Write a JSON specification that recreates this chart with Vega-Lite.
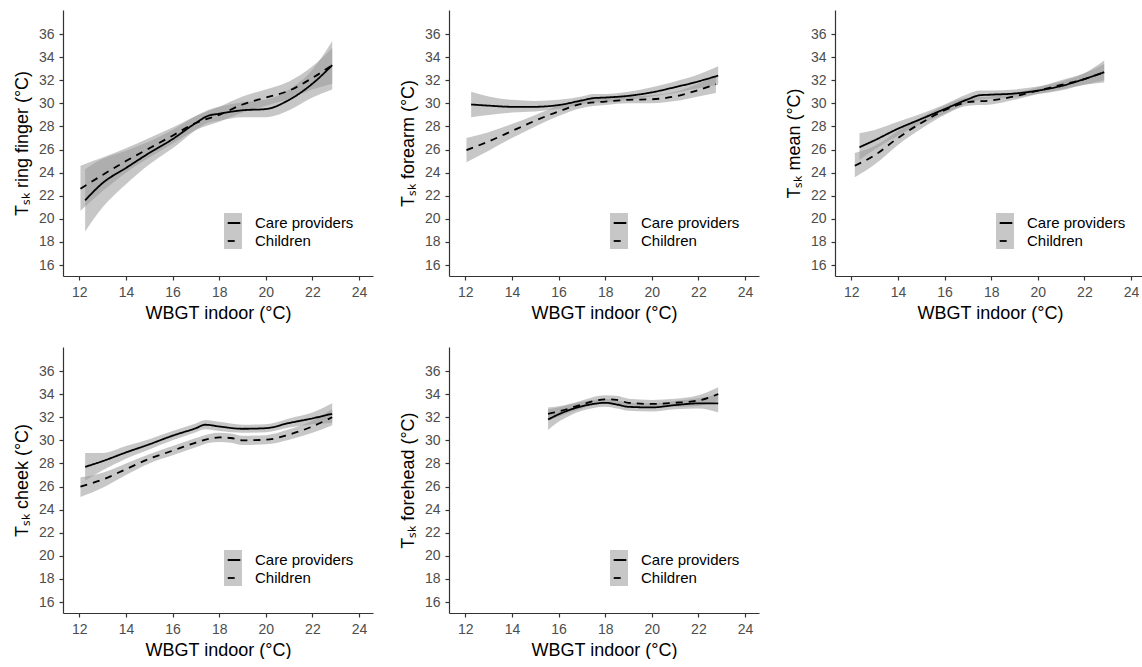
{
  "$schema": "https://vega.github.io/schema/vega-lite/v6.json",
  "padding": {"left": 13, "top": 10, "right": 0, "bottom": 0},
  "background": "white",
  "config": {
    "view": {"stroke": null},
    "axis": {"grid": false, "domainColor": "#333333", "tickColor": "#333333", "tickSize": 4, "domainWidth": 1.2, "tickWidth": 1.2,
      "labelFont": "Liberation Sans", "labelFontSize": 14, "labelColor": "#4d4d4d", "labelPadding": 5,
      "titleFont": "Liberation Sans", "titleFontSize": 18, "titleFontWeight": "normal", "titleColor": "#000000",
      "labelFlush": false, "labelOverlap": false},
    "axisY": {"titlePadding": 7},
    "axisX": {"titlePadding": 5},
    "legend": {"labelFont": "Liberation Sans"}
  },
  "datasets": {
    "d": [
      {"p": "ring", "g": "Care providers", "x": 12.25, "y": 21.6, "lo": 18.9, "hi": 24.3},
      {"p": "ring", "g": "Care providers", "x": 13, "y": 23.1, "lo": 21.0, "hi": 25.2},
      {"p": "ring", "g": "Care providers", "x": 14, "y": 24.4, "lo": 23.0, "hi": 25.9},
      {"p": "ring", "g": "Care providers", "x": 15, "y": 25.7, "lo": 24.7, "hi": 26.7},
      {"p": "ring", "g": "Care providers", "x": 16, "y": 26.9, "lo": 26.1, "hi": 27.7},
      {"p": "ring", "g": "Care providers", "x": 17, "y": 28.3, "lo": 27.7, "hi": 28.9},
      {"p": "ring", "g": "Care providers", "x": 17.5, "y": 28.9, "lo": 28.3, "hi": 29.4},
      {"p": "ring", "g": "Care providers", "x": 18, "y": 29.1, "lo": 28.5, "hi": 29.7},
      {"p": "ring", "g": "Care providers", "x": 19, "y": 29.4, "lo": 28.8, "hi": 30.1},
      {"p": "ring", "g": "Care providers", "x": 20, "y": 29.5, "lo": 28.8, "hi": 30.3},
      {"p": "ring", "g": "Care providers", "x": 21, "y": 30.3, "lo": 29.4, "hi": 31.2},
      {"p": "ring", "g": "Care providers", "x": 22, "y": 31.7, "lo": 30.5, "hi": 32.9},
      {"p": "ring", "g": "Care providers", "x": 22.85, "y": 33.3, "lo": 31.2, "hi": 35.4},
      {"p": "ring", "g": "Children", "x": 12.05, "y": 22.6, "lo": 20.7, "hi": 24.6},
      {"p": "ring", "g": "Children", "x": 13, "y": 23.8, "lo": 22.4, "hi": 25.3},
      {"p": "ring", "g": "Children", "x": 14, "y": 25.0, "lo": 24.0, "hi": 26.1},
      {"p": "ring", "g": "Children", "x": 15, "y": 26.1, "lo": 25.3, "hi": 27.0},
      {"p": "ring", "g": "Children", "x": 16, "y": 27.2, "lo": 26.5, "hi": 27.9},
      {"p": "ring", "g": "Children", "x": 17, "y": 28.3, "lo": 27.7, "hi": 28.9},
      {"p": "ring", "g": "Children", "x": 18, "y": 29.0, "lo": 28.4, "hi": 29.7},
      {"p": "ring", "g": "Children", "x": 19, "y": 29.9, "lo": 29.2, "hi": 30.6},
      {"p": "ring", "g": "Children", "x": 20, "y": 30.5, "lo": 29.8, "hi": 31.2},
      {"p": "ring", "g": "Children", "x": 21, "y": 31.1, "lo": 30.4, "hi": 31.9},
      {"p": "ring", "g": "Children", "x": 22, "y": 32.2, "lo": 31.2, "hi": 33.2},
      {"p": "ring", "g": "Children", "x": 22.85, "y": 33.3, "lo": 31.7, "hi": 34.8},

      {"p": "forearm", "g": "Care providers", "x": 12.25, "y": 29.9, "lo": 28.8, "hi": 31.0},
      {"p": "forearm", "g": "Care providers", "x": 13, "y": 29.8, "lo": 29.0, "hi": 30.6},
      {"p": "forearm", "g": "Care providers", "x": 14, "y": 29.7, "lo": 29.2, "hi": 30.3},
      {"p": "forearm", "g": "Care providers", "x": 15, "y": 29.7, "lo": 29.3, "hi": 30.2},
      {"p": "forearm", "g": "Care providers", "x": 16, "y": 29.85, "lo": 29.5, "hi": 30.3},
      {"p": "forearm", "g": "Care providers", "x": 17, "y": 30.25, "lo": 29.9, "hi": 30.6},
      {"p": "forearm", "g": "Care providers", "x": 17.5, "y": 30.45, "lo": 30.1, "hi": 30.8},
      {"p": "forearm", "g": "Care providers", "x": 18, "y": 30.5, "lo": 30.1, "hi": 30.8},
      {"p": "forearm", "g": "Care providers", "x": 19, "y": 30.65, "lo": 30.3, "hi": 31.0},
      {"p": "forearm", "g": "Care providers", "x": 20, "y": 30.95, "lo": 30.6, "hi": 31.4},
      {"p": "forearm", "g": "Care providers", "x": 21, "y": 31.4, "lo": 30.9, "hi": 31.9},
      {"p": "forearm", "g": "Care providers", "x": 22, "y": 31.9, "lo": 31.3, "hi": 32.5},
      {"p": "forearm", "g": "Care providers", "x": 22.85, "y": 32.4, "lo": 31.6, "hi": 33.2},
      {"p": "forearm", "g": "Children", "x": 12.05, "y": 25.95, "lo": 24.9, "hi": 27.0},
      {"p": "forearm", "g": "Children", "x": 13, "y": 26.7, "lo": 25.9, "hi": 27.5},
      {"p": "forearm", "g": "Children", "x": 14, "y": 27.6, "lo": 27.0, "hi": 28.2},
      {"p": "forearm", "g": "Children", "x": 15, "y": 28.5, "lo": 28.0, "hi": 29.0},
      {"p": "forearm", "g": "Children", "x": 16, "y": 29.3, "lo": 28.9, "hi": 29.8},
      {"p": "forearm", "g": "Children", "x": 17, "y": 29.95, "lo": 29.6, "hi": 30.3},
      {"p": "forearm", "g": "Children", "x": 18, "y": 30.15, "lo": 29.85, "hi": 30.5},
      {"p": "forearm", "g": "Children", "x": 19, "y": 30.3, "lo": 30.0, "hi": 30.6},
      {"p": "forearm", "g": "Children", "x": 20, "y": 30.35, "lo": 30.0, "hi": 30.7},
      {"p": "forearm", "g": "Children", "x": 21, "y": 30.6, "lo": 30.2, "hi": 31.0},
      {"p": "forearm", "g": "Children", "x": 22, "y": 31.15, "lo": 30.6, "hi": 31.7},
      {"p": "forearm", "g": "Children", "x": 22.75, "y": 31.65, "lo": 30.9, "hi": 32.4},

      {"p": "mean", "g": "Care providers", "x": 12.35, "y": 26.2, "lo": 25.1, "hi": 27.4},
      {"p": "mean", "g": "Care providers", "x": 13, "y": 26.8, "lo": 26.0, "hi": 27.7},
      {"p": "mean", "g": "Care providers", "x": 14, "y": 27.8, "lo": 27.2, "hi": 28.4},
      {"p": "mean", "g": "Care providers", "x": 15, "y": 28.65, "lo": 28.2, "hi": 29.1},
      {"p": "mean", "g": "Care providers", "x": 16, "y": 29.5, "lo": 29.1, "hi": 29.9},
      {"p": "mean", "g": "Care providers", "x": 17, "y": 30.35, "lo": 30.0, "hi": 30.8},
      {"p": "mean", "g": "Care providers", "x": 17.5, "y": 30.7, "lo": 30.3, "hi": 31.1},
      {"p": "mean", "g": "Care providers", "x": 18, "y": 30.75, "lo": 30.4, "hi": 31.1},
      {"p": "mean", "g": "Care providers", "x": 19, "y": 30.85, "lo": 30.5, "hi": 31.2},
      {"p": "mean", "g": "Care providers", "x": 20, "y": 31.1, "lo": 30.8, "hi": 31.45},
      {"p": "mean", "g": "Care providers", "x": 21, "y": 31.5, "lo": 31.1, "hi": 31.9},
      {"p": "mean", "g": "Care providers", "x": 22, "y": 32.1, "lo": 31.6, "hi": 32.6},
      {"p": "mean", "g": "Care providers", "x": 22.85, "y": 32.7, "lo": 31.8, "hi": 33.7},
      {"p": "mean", "g": "Children", "x": 12.15, "y": 24.6, "lo": 23.6, "hi": 25.7},
      {"p": "mean", "g": "Children", "x": 13, "y": 25.5, "lo": 24.7, "hi": 26.3},
      {"p": "mean", "g": "Children", "x": 14, "y": 27.0, "lo": 26.4, "hi": 27.6},
      {"p": "mean", "g": "Children", "x": 15, "y": 28.3, "lo": 27.8, "hi": 28.8},
      {"p": "mean", "g": "Children", "x": 16, "y": 29.4, "lo": 29.0, "hi": 29.8},
      {"p": "mean", "g": "Children", "x": 17, "y": 30.1, "lo": 29.8, "hi": 30.5},
      {"p": "mean", "g": "Children", "x": 18, "y": 30.25, "lo": 29.9, "hi": 30.6},
      {"p": "mean", "g": "Children", "x": 19, "y": 30.6, "lo": 30.3, "hi": 30.9},
      {"p": "mean", "g": "Children", "x": 20, "y": 31.1, "lo": 30.8, "hi": 31.4},
      {"p": "mean", "g": "Children", "x": 21, "y": 31.6, "lo": 31.2, "hi": 32.0},
      {"p": "mean", "g": "Children", "x": 22, "y": 32.1, "lo": 31.6, "hi": 32.6},
      {"p": "mean", "g": "Children", "x": 22.85, "y": 32.7, "lo": 32.0, "hi": 33.4},

      {"p": "cheek", "g": "Care providers", "x": 12.25, "y": 27.7, "lo": 26.5, "hi": 28.9},
      {"p": "cheek", "g": "Care providers", "x": 13, "y": 28.2, "lo": 27.4, "hi": 28.9},
      {"p": "cheek", "g": "Care providers", "x": 14, "y": 28.95, "lo": 28.4, "hi": 29.5},
      {"p": "cheek", "g": "Care providers", "x": 15, "y": 29.65, "lo": 29.2, "hi": 30.1},
      {"p": "cheek", "g": "Care providers", "x": 16, "y": 30.4, "lo": 30.0, "hi": 30.8},
      {"p": "cheek", "g": "Care providers", "x": 17, "y": 31.05, "lo": 30.7, "hi": 31.45},
      {"p": "cheek", "g": "Care providers", "x": 17.4, "y": 31.35, "lo": 30.95, "hi": 31.75},
      {"p": "cheek", "g": "Care providers", "x": 18, "y": 31.2, "lo": 30.8, "hi": 31.6},
      {"p": "cheek", "g": "Care providers", "x": 19, "y": 31.0, "lo": 30.65, "hi": 31.35},
      {"p": "cheek", "g": "Care providers", "x": 20, "y": 31.05, "lo": 30.7, "hi": 31.4},
      {"p": "cheek", "g": "Care providers", "x": 21, "y": 31.5, "lo": 31.1, "hi": 31.9},
      {"p": "cheek", "g": "Care providers", "x": 22, "y": 31.9, "lo": 31.4, "hi": 32.4},
      {"p": "cheek", "g": "Care providers", "x": 22.85, "y": 32.3, "lo": 31.5, "hi": 33.2},
      {"p": "cheek", "g": "Children", "x": 12.05, "y": 26.0, "lo": 25.1, "hi": 26.8},
      {"p": "cheek", "g": "Children", "x": 13, "y": 26.6, "lo": 25.9, "hi": 27.2},
      {"p": "cheek", "g": "Children", "x": 14, "y": 27.5, "lo": 27.0, "hi": 28.0},
      {"p": "cheek", "g": "Children", "x": 15, "y": 28.4, "lo": 28.0, "hi": 28.8},
      {"p": "cheek", "g": "Children", "x": 16, "y": 29.1, "lo": 28.7, "hi": 29.5},
      {"p": "cheek", "g": "Children", "x": 17, "y": 29.8, "lo": 29.4, "hi": 30.2},
      {"p": "cheek", "g": "Children", "x": 17.6, "y": 30.15, "lo": 29.8, "hi": 30.55},
      {"p": "cheek", "g": "Children", "x": 18, "y": 30.25, "lo": 29.85, "hi": 30.65},
      {"p": "cheek", "g": "Children", "x": 18.5, "y": 30.2, "lo": 29.8, "hi": 30.6},
      {"p": "cheek", "g": "Children", "x": 19, "y": 30.0, "lo": 29.6, "hi": 30.4},
      {"p": "cheek", "g": "Children", "x": 20, "y": 30.05, "lo": 29.65, "hi": 30.45},
      {"p": "cheek", "g": "Children", "x": 21, "y": 30.5, "lo": 30.05, "hi": 30.95},
      {"p": "cheek", "g": "Children", "x": 22, "y": 31.2, "lo": 30.65, "hi": 31.7},
      {"p": "cheek", "g": "Children", "x": 22.85, "y": 32.0, "lo": 31.3, "hi": 32.7},

      {"p": "forehead", "g": "Care providers", "x": 15.55, "y": 31.8, "lo": 30.9, "hi": 32.7},
      {"p": "forehead", "g": "Care providers", "x": 16, "y": 32.25, "lo": 31.6, "hi": 32.85},
      {"p": "forehead", "g": "Care providers", "x": 16.5, "y": 32.65, "lo": 32.15, "hi": 33.1},
      {"p": "forehead", "g": "Care providers", "x": 17, "y": 32.95, "lo": 32.55, "hi": 33.35},
      {"p": "forehead", "g": "Care providers", "x": 17.5, "y": 33.15, "lo": 32.8, "hi": 33.5},
      {"p": "forehead", "g": "Care providers", "x": 18, "y": 33.25, "lo": 32.9, "hi": 33.6},
      {"p": "forehead", "g": "Care providers", "x": 18.5, "y": 33.1, "lo": 32.75, "hi": 33.45},
      {"p": "forehead", "g": "Care providers", "x": 19, "y": 32.9, "lo": 32.55, "hi": 33.25},
      {"p": "forehead", "g": "Care providers", "x": 20, "y": 32.85, "lo": 32.5, "hi": 33.2},
      {"p": "forehead", "g": "Care providers", "x": 21, "y": 33.05, "lo": 32.7, "hi": 33.4},
      {"p": "forehead", "g": "Care providers", "x": 22, "y": 33.2, "lo": 32.75, "hi": 33.65},
      {"p": "forehead", "g": "Care providers", "x": 22.85, "y": 33.2, "lo": 32.4, "hi": 34.0},
      {"p": "forehead", "g": "Children", "x": 15.55, "y": 32.3, "lo": 31.7, "hi": 32.85},
      {"p": "forehead", "g": "Children", "x": 16, "y": 32.5, "lo": 32.05, "hi": 32.95},
      {"p": "forehead", "g": "Children", "x": 17, "y": 33.1, "lo": 32.75, "hi": 33.45},
      {"p": "forehead", "g": "Children", "x": 17.5, "y": 33.4, "lo": 33.05, "hi": 33.75},
      {"p": "forehead", "g": "Children", "x": 18, "y": 33.55, "lo": 33.2, "hi": 33.9},
      {"p": "forehead", "g": "Children", "x": 18.5, "y": 33.5, "lo": 33.15, "hi": 33.85},
      {"p": "forehead", "g": "Children", "x": 19, "y": 33.25, "lo": 32.9, "hi": 33.6},
      {"p": "forehead", "g": "Children", "x": 20, "y": 33.15, "lo": 32.8, "hi": 33.5},
      {"p": "forehead", "g": "Children", "x": 21, "y": 33.25, "lo": 32.9, "hi": 33.6},
      {"p": "forehead", "g": "Children", "x": 22, "y": 33.45, "lo": 33.0, "hi": 33.9},
      {"p": "forehead", "g": "Children", "x": 22.85, "y": 34.0, "lo": 33.4, "hi": 34.6}
    ]
  },
  "data": {"name": "d"},
  "columns": 3,
  "spacing": {"row": 71, "column": 76},
  "bounds": "flush",
  "resolve": {"scale": {"fill": "independent", "strokeDash": "independent"}},
  "concat": [
    {
      "width": 310, "height": 266,
      "transform": [{"filter": "datum.p === 'ring'"}],
      "layer": [
        {"mark": {"type": "area", "interpolate": "monotone", "opacity": 0.55},
         "encoding": {
           "x": {"field": "x", "type": "quantitative", "scale": {"domain": [11.3, 24.6], "nice": false, "zero": false}, "axis": {"values": [12, 14, 16, 18, 20, 22, 24], "title": "WBGT indoor (°C)"}},
           "y": {"field": "lo", "type": "quantitative", "scale": {"domain": [15.05, 38.08], "nice": false, "zero": false}, "axis": {"values": [16, 18, 20, 22, 24, 26, 28, 30, 32, 34, 36], "title": "Tₛₖ ring finger (°C)"}},
           "y2": {"field": "hi"},
           "fill": {"field": "g", "type": "nominal", "scale": {"domain": ["Care providers", "Children"], "range": ["#999999", "#999999"]},
             "legend": {"title": null, "orient": "none", "legendX": 161, "legendY": 203, "symbolType": "square", "symbolSize": 324, "symbolStrokeWidth": 0, "symbolOpacity": 0.55, "labelExpr": "''", "labelFontSize": 15, "rowPadding": 0, "padding": 0, "zindex": 0}}
         }},
        {"mark": {"type": "line", "interpolate": "monotone", "color": "black", "strokeWidth": 1.8},
         "encoding": {
           "x": {"field": "x", "type": "quantitative", "axis": {"values": [12, 14, 16, 18, 20, 22, 24], "title": "WBGT indoor (°C)"}},
           "y": {"field": "y", "type": "quantitative", "axis": {"values": [16, 18, 20, 22, 24, 26, 28, 30, 32, 34, 36], "title": "Tₛₖ ring finger (°C)"}},
           "strokeDash": {"field": "g", "type": "nominal", "scale": {"range": [[1, 0], [7, 6]]},
             "legend": {"title": null, "orient": "none", "legendX": 161, "legendY": 203, "symbolType": "M-0.7,0H0.7", "symbolSize": 324, "symbolStrokeColor": "black", "symbolStrokeWidth": 1.8, "symbolFillColor": "transparent", "labelFontSize": 15, "labelColor": "black", "labelOffset": 11, "rowPadding": 0, "padding": 0, "zindex": 1}}
         }}
      ]
    },
    {
      "width": 310, "height": 266,
      "transform": [{"filter": "datum.p === 'forearm'"}],
      "layer": [
        {"mark": {"type": "area", "interpolate": "monotone", "opacity": 0.55},
         "encoding": {
           "x": {"field": "x", "type": "quantitative", "scale": {"domain": [11.3, 24.6], "nice": false, "zero": false}, "axis": {"values": [12, 14, 16, 18, 20, 22, 24], "title": "WBGT indoor (°C)"}},
           "y": {"field": "lo", "type": "quantitative", "scale": {"domain": [15.05, 38.08], "nice": false, "zero": false}, "axis": {"values": [16, 18, 20, 22, 24, 26, 28, 30, 32, 34, 36], "title": "Tₛₖ forearm (°C)"}},
           "y2": {"field": "hi"},
           "fill": {"field": "g", "type": "nominal", "scale": {"domain": ["Care providers", "Children"], "range": ["#999999", "#999999"]},
             "legend": {"title": null, "orient": "none", "legendX": 161, "legendY": 203, "symbolType": "square", "symbolSize": 324, "symbolStrokeWidth": 0, "symbolOpacity": 0.55, "labelExpr": "''", "labelFontSize": 15, "rowPadding": 0, "padding": 0, "zindex": 0}}
         }},
        {"mark": {"type": "line", "interpolate": "monotone", "color": "black", "strokeWidth": 1.8},
         "encoding": {
           "x": {"field": "x", "type": "quantitative", "axis": {"values": [12, 14, 16, 18, 20, 22, 24], "title": "WBGT indoor (°C)"}},
           "y": {"field": "y", "type": "quantitative", "axis": {"values": [16, 18, 20, 22, 24, 26, 28, 30, 32, 34, 36], "title": "Tₛₖ forearm (°C)"}},
           "strokeDash": {"field": "g", "type": "nominal", "scale": {"range": [[1, 0], [7, 6]]},
             "legend": {"title": null, "orient": "none", "legendX": 161, "legendY": 203, "symbolType": "M-0.7,0H0.7", "symbolSize": 324, "symbolStrokeColor": "black", "symbolStrokeWidth": 1.8, "symbolFillColor": "transparent", "labelFontSize": 15, "labelColor": "black", "labelOffset": 11, "rowPadding": 0, "padding": 0, "zindex": 1}}
         }}
      ]
    },
    {
      "width": 310, "height": 266,
      "transform": [{"filter": "datum.p === 'mean'"}],
      "layer": [
        {"mark": {"type": "area", "interpolate": "monotone", "opacity": 0.55},
         "encoding": {
           "x": {"field": "x", "type": "quantitative", "scale": {"domain": [11.3, 24.6], "nice": false, "zero": false}, "axis": {"values": [12, 14, 16, 18, 20, 22, 24], "title": "WBGT indoor (°C)"}},
           "y": {"field": "lo", "type": "quantitative", "scale": {"domain": [15.05, 38.08], "nice": false, "zero": false}, "axis": {"values": [16, 18, 20, 22, 24, 26, 28, 30, 32, 34, 36], "title": "Tₛₖ mean (°C)"}},
           "y2": {"field": "hi"},
           "fill": {"field": "g", "type": "nominal", "scale": {"domain": ["Care providers", "Children"], "range": ["#999999", "#999999"]},
             "legend": {"title": null, "orient": "none", "legendX": 161, "legendY": 203, "symbolType": "square", "symbolSize": 324, "symbolStrokeWidth": 0, "symbolOpacity": 0.55, "labelExpr": "''", "labelFontSize": 15, "rowPadding": 0, "padding": 0, "zindex": 0}}
         }},
        {"mark": {"type": "line", "interpolate": "monotone", "color": "black", "strokeWidth": 1.8},
         "encoding": {
           "x": {"field": "x", "type": "quantitative", "axis": {"values": [12, 14, 16, 18, 20, 22, 24], "title": "WBGT indoor (°C)"}},
           "y": {"field": "y", "type": "quantitative", "axis": {"values": [16, 18, 20, 22, 24, 26, 28, 30, 32, 34, 36], "title": "Tₛₖ mean (°C)"}},
           "strokeDash": {"field": "g", "type": "nominal", "scale": {"range": [[1, 0], [7, 6]]},
             "legend": {"title": null, "orient": "none", "legendX": 161, "legendY": 203, "symbolType": "M-0.7,0H0.7", "symbolSize": 324, "symbolStrokeColor": "black", "symbolStrokeWidth": 1.8, "symbolFillColor": "transparent", "labelFontSize": 15, "labelColor": "black", "labelOffset": 11, "rowPadding": 0, "padding": 0, "zindex": 1}}
         }}
      ]
    },
    {
      "width": 310, "height": 266,
      "transform": [{"filter": "datum.p === 'cheek'"}],
      "layer": [
        {"mark": {"type": "area", "interpolate": "monotone", "opacity": 0.55},
         "encoding": {
           "x": {"field": "x", "type": "quantitative", "scale": {"domain": [11.3, 24.6], "nice": false, "zero": false}, "axis": {"values": [12, 14, 16, 18, 20, 22, 24], "title": "WBGT indoor (°C)"}},
           "y": {"field": "lo", "type": "quantitative", "scale": {"domain": [15.05, 38.08], "nice": false, "zero": false}, "axis": {"values": [16, 18, 20, 22, 24, 26, 28, 30, 32, 34, 36], "title": "Tₛₖ cheek (°C)"}},
           "y2": {"field": "hi"},
           "fill": {"field": "g", "type": "nominal", "scale": {"domain": ["Care providers", "Children"], "range": ["#999999", "#999999"]},
             "legend": {"title": null, "orient": "none", "legendX": 161, "legendY": 203, "symbolType": "square", "symbolSize": 324, "symbolStrokeWidth": 0, "symbolOpacity": 0.55, "labelExpr": "''", "labelFontSize": 15, "rowPadding": 0, "padding": 0, "zindex": 0}}
         }},
        {"mark": {"type": "line", "interpolate": "monotone", "color": "black", "strokeWidth": 1.8},
         "encoding": {
           "x": {"field": "x", "type": "quantitative", "axis": {"values": [12, 14, 16, 18, 20, 22, 24], "title": "WBGT indoor (°C)"}},
           "y": {"field": "y", "type": "quantitative", "axis": {"values": [16, 18, 20, 22, 24, 26, 28, 30, 32, 34, 36], "title": "Tₛₖ cheek (°C)"}},
           "strokeDash": {"field": "g", "type": "nominal", "scale": {"range": [[1, 0], [7, 6]]},
             "legend": {"title": null, "orient": "none", "legendX": 161, "legendY": 203, "symbolType": "M-0.7,0H0.7", "symbolSize": 324, "symbolStrokeColor": "black", "symbolStrokeWidth": 1.8, "symbolFillColor": "transparent", "labelFontSize": 15, "labelColor": "black", "labelOffset": 11, "rowPadding": 0, "padding": 0, "zindex": 1}}
         }}
      ]
    },
    {
      "width": 310, "height": 266,
      "transform": [{"filter": "datum.p === 'forehead'"}],
      "layer": [
        {"mark": {"type": "area", "interpolate": "monotone", "opacity": 0.55},
         "encoding": {
           "x": {"field": "x", "type": "quantitative", "scale": {"domain": [11.3, 24.6], "nice": false, "zero": false}, "axis": {"values": [12, 14, 16, 18, 20, 22, 24], "title": "WBGT indoor (°C)"}},
           "y": {"field": "lo", "type": "quantitative", "scale": {"domain": [15.05, 38.08], "nice": false, "zero": false}, "axis": {"values": [16, 18, 20, 22, 24, 26, 28, 30, 32, 34, 36], "title": "Tₛₖ forehead (°C)"}},
           "y2": {"field": "hi"},
           "fill": {"field": "g", "type": "nominal", "scale": {"domain": ["Care providers", "Children"], "range": ["#999999", "#999999"]},
             "legend": {"title": null, "orient": "none", "legendX": 161, "legendY": 203, "symbolType": "square", "symbolSize": 324, "symbolStrokeWidth": 0, "symbolOpacity": 0.55, "labelExpr": "''", "labelFontSize": 15, "rowPadding": 0, "padding": 0, "zindex": 0}}
         }},
        {"mark": {"type": "line", "interpolate": "monotone", "color": "black", "strokeWidth": 1.8},
         "encoding": {
           "x": {"field": "x", "type": "quantitative", "axis": {"values": [12, 14, 16, 18, 20, 22, 24], "title": "WBGT indoor (°C)"}},
           "y": {"field": "y", "type": "quantitative", "axis": {"values": [16, 18, 20, 22, 24, 26, 28, 30, 32, 34, 36], "title": "Tₛₖ forehead (°C)"}},
           "strokeDash": {"field": "g", "type": "nominal", "scale": {"range": [[1, 0], [7, 6]]},
             "legend": {"title": null, "orient": "none", "legendX": 161, "legendY": 203, "symbolType": "M-0.7,0H0.7", "symbolSize": 324, "symbolStrokeColor": "black", "symbolStrokeWidth": 1.8, "symbolFillColor": "transparent", "labelFontSize": 15, "labelColor": "black", "labelOffset": 11, "rowPadding": 0, "padding": 0, "zindex": 1}}
         }}
      ]
    }
  ]
}
